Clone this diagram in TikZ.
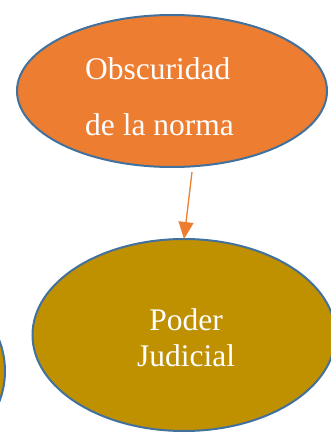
\documentclass[tikz,border=0pt]{standalone}
\usepackage{fontspec}
\setmainfont{Liberation Serif}
\usetikzlibrary{shapes.geometric,arrows.meta}
\definecolor{orangefill}{HTML}{ED7D31}
\definecolor{goldfill}{HTML}{BF9000}
\definecolor{bluedge}{HTML}{41719C}
\tikzset{
  bubble/.style={ellipse, draw=bluedge, line width=2pt, inner sep=0pt, outer sep=0pt},
  lbl/.style={text=white, font=\fontsize{31.5}{31.5}\selectfont, inner sep=0pt},
  conn/.style={draw=orangefill, line width=1.3pt, -{Triangle[length=17pt,width=15pt]}}
}
\begin{document}
\begin{tikzpicture}[x=1pt,y=1pt]
\useasboundingbox (0,0) rectangle (330,-433);
\node[bubble, fill=orangefill, minimum width=310pt, minimum height=152pt] (top) at (172,-91) {};
\node[bubble, fill=goldfill, minimum width=303pt, minimum height=192pt] (bot) at (184,-335) {};
\node[bubble, fill=goldfill, minimum width=220pt, minimum height=192pt] (left) at (-105,-371) {};
\node[lbl, anchor=base west] (t1) at (85,-80) {Obscuridad};
\node[lbl, anchor=base west] (t2) at (85,-135) {de la norma};
\node[lbl, anchor=base] (b1) at (186,-330) {Poder};
\node[lbl, anchor=base] (b2) at (186,-366) {Judicial};
\draw[conn] ([xshift=20pt,yshift=-5pt]top.south) -- (bot.north);
\end{tikzpicture}
\end{document}
